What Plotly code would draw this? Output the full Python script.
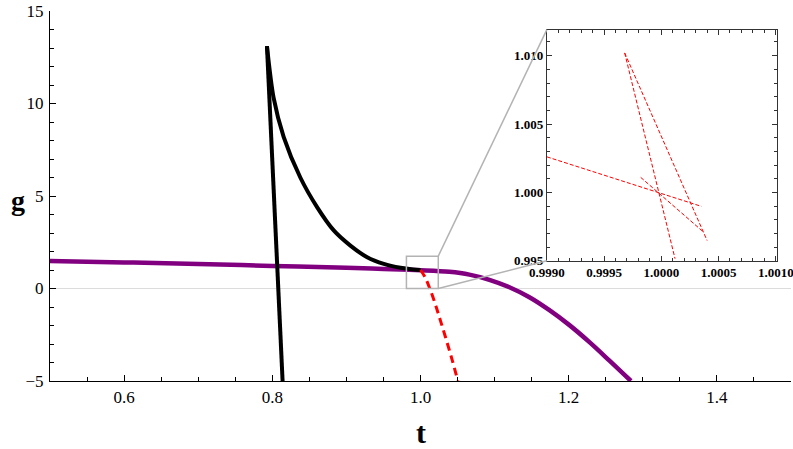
import plotly.graph_objects as go

# main curves
t_steep = [0.7928, 0.7995, 0.8063, 0.8139]
g_steep = [13.1, 7.2, 1.3, -5.0]

t_black = [0.7928, 0.8018, 0.8153, 0.8378, 0.8604, 0.8829, 0.9054, 0.928, 0.9505, 0.973, 0.99, 1.0]
g_black = [13.1, 10.3, 8.2, 6.0, 4.4, 3.14, 2.32, 1.69, 1.33, 1.12, 1.03, 1.0]

t_purple = [0.5, 0.6, 0.7, 0.8, 0.9, 0.95, 1.0, 1.039, 1.066, 1.093, 1.12, 1.147, 1.174, 1.201, 1.228, 1.255, 1.284]
g_purple = [1.48, 1.41, 1.33, 1.22, 1.12, 1.06, 0.99, 0.9, 0.75, 0.47, 0.07, -0.47, -1.17, -1.98, -2.9, -3.9, -5.0]

t_red = [1.0, 1.006, 1.013, 1.020, 1.027, 1.035, 1.043, 1.0505]
g_red = [1.0, 0.62, -0.05, -0.85, -1.75, -2.8, -3.9, -5.0]

# zoomed-in segments for the inset
inset_segments = [
    ([0.99968, 1.00012], [1.0102, 0.99515]),
    ([0.99968, 1.00040], [1.0102, 0.99648]),
    ([0.99900, 1.00035], [1.0026, 0.99898]),
    ([0.99982, 1.00037], [1.0011, 0.99709]),
]

x_range = [0.5, 1.5]
y_range = [-5, 15]
zoom_box = [0.981, 1.024, 0, 1.75]
inset_x = [0.9990, 1.00101]
inset_y = [0.995, 1.0119]
inset_dom_x = [0.6705, 0.981]
inset_dom_y = [0.325, 0.9495]

SERIF = "Liberation Serif"

fig = go.Figure()
fig.add_trace(go.Scatter(x=t_purple, y=g_purple, mode="lines",
                         line=dict(color="#800080", width=4.5, shape="spline", smoothing=1.0)))
fig.add_trace(go.Scatter(x=t_black, y=g_black, mode="lines",
                         line=dict(color="black", width=4, shape="spline", smoothing=0.8)))
fig.add_trace(go.Scatter(x=t_steep, y=g_steep, mode="lines",
                         line=dict(color="black", width=4)))
fig.add_trace(go.Scatter(x=t_red, y=g_red, mode="lines",
                         line=dict(color="red", width=3, dash="8px,5px", shape="spline")))

for xs, ys in inset_segments:
    fig.add_trace(go.Scatter(x=xs, y=ys, mode="lines", xaxis="x2", yaxis="y2",
                             line=dict(color="red", width=1, dash="4px,2px")))

# zoom rectangle and connectors (paper coords)
def px(t):
    return (t - x_range[0]) / (x_range[1] - x_range[0])

def py(g):
    return (g - y_range[0]) / (y_range[1] - y_range[0])

gray = "#b3b3b3"
fig.add_shape(type="rect", xref="x", yref="y",
              x0=zoom_box[0], x1=zoom_box[1], y0=zoom_box[2], y1=zoom_box[3],
              line=dict(color=gray, width=1.5))
fig.add_shape(type="line", xref="paper", yref="paper",
              x0=px(zoom_box[1]), y0=py(zoom_box[3]), x1=inset_dom_x[0], y1=inset_dom_y[1],
              line=dict(color=gray, width=1.5))
fig.add_shape(type="line", xref="paper", yref="paper",
              x0=px(zoom_box[1]), y0=py(zoom_box[2]), x1=inset_dom_x[0], y1=inset_dom_y[0],
              line=dict(color=gray, width=1.5))

fig.update_layout(
    width=793, height=449,
    margin=dict(l=50, r=2, t=11, b=68),
    paper_bgcolor="white", plot_bgcolor="white",
    showlegend=False,
    font=dict(family=SERIF, color="black"),
    xaxis=dict(range=x_range, showgrid=False, zeroline=False, automargin=False,
               showline=True, linecolor="black", linewidth=1,
               ticks="inside", ticklen=6, tickcolor="black", ticklabelstandoff=1,
               tickvals=[0.6, 0.8, 1.0, 1.2, 1.4], ticktext=["0.6", "0.8", "1.0", "1.2", "1.4"],
               tickfont=dict(size=17, family=SERIF),
               minor=dict(ticks="inside", ticklen=4, dtick=0.05, tick0=0.5, tickcolor="black")),
    yaxis=dict(range=y_range, showgrid=False, automargin=False, ticklabeloverflow="allow",
               zeroline=True, zerolinecolor="#dcdcdc", zerolinewidth=1,
               showline=True, linecolor="black", linewidth=1,
               ticks="inside", ticklen=6, tickcolor="black", ticklabelstandoff=2,
               tickvals=[-5, 0, 5, 10, 15],
               tickfont=dict(size=17, family=SERIF),
               minor=dict(ticks="inside", ticklen=4, dtick=1, tick0=0, tickcolor="black")),
    xaxis2=dict(domain=inset_dom_x, anchor="y2", range=inset_x, showgrid=False, zeroline=False,
                automargin=False, ticklabeloverflow="allow",
                showline=True, linecolor="#333", linewidth=1, mirror="allticks",
                ticks="inside", ticklen=5, tickcolor="#333",
                tickvals=[0.9990, 0.9995, 1.0000, 1.0005, 1.0010], tickformat=".4f",
                tickfont=dict(size=13, family=SERIF, weight="bold"),
                minor=dict(ticks="inside", ticklen=3, dtick=0.0001, tick0=0.999, tickcolor="#333")),
    yaxis2=dict(domain=inset_dom_y, anchor="x2", range=inset_y, showgrid=False, zeroline=False,
                automargin=False, ticklabeloverflow="allow",
                showline=True, linecolor="#333", linewidth=1, mirror="allticks",
                ticks="inside", ticklen=5, tickcolor="#333",
                tickvals=[0.995, 1.000, 1.005, 1.010], tickformat=".3f",
                tickfont=dict(size=13, family=SERIF, weight="bold"),
                minor=dict(ticks="inside", ticklen=3, dtick=0.001, tick0=0.995, tickcolor="#333")),
    annotations=[
        dict(text="<b>g</b>", x=-0.043, y=0.489, xref="paper", yref="paper",
             xanchor="center", yanchor="middle",
             showarrow=False, font=dict(size=28, family=SERIF)),
        dict(text="<b>t</b>", x=0.5007, y=-0.14, xref="paper", yref="paper",
             xanchor="center", yanchor="middle",
             showarrow=False, font=dict(size=30, family=SERIF)),
    ],
)

# drop the default body margin so the figure sits at the window's corner
fig.write_html("out.html", config={"displayModeBar": False},
               post_script="document.body.style.margin='0';")
